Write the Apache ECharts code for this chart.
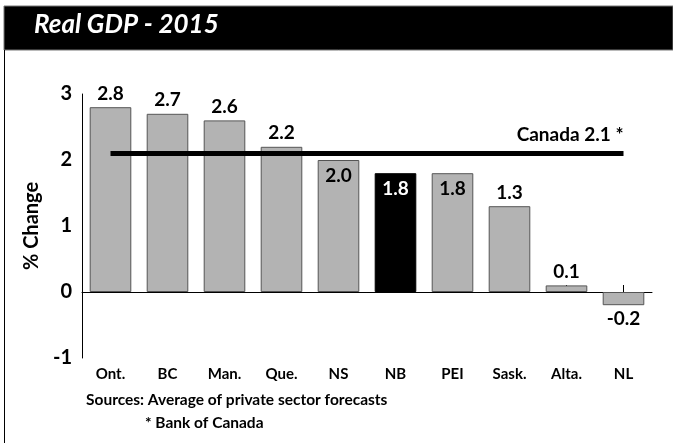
<!DOCTYPE html>
<html>
<head>
<meta charset="utf-8">
<script src="https://cdn.jsdelivr.net/npm/echarts@6/dist/echarts.min.js"></script>
<style>
  html, body { margin: 0; padding: 0; background: #fff; }
  #chart { width: 673px; height: 443px; }
</style>
</head>
<body>
<div id="chart"></div>
<script>
// data
var provinces = ['Ont.', 'BC', 'Man.', 'Que.', 'NS', 'NB', 'PEI', 'Sask.', 'Alta.', 'NL'];
var gdpGrowth = [2.8, 2.7, 2.6, 2.2, 2.0, 1.8, 1.8, 1.3, 0.1, -0.2];
var canadaGrowth = 2.1;
var yTicks = [-1, 0, 1, 2, 3];

var FONT = 'Lato';
var chart = echarts.init(document.getElementById('chart'));

// labels that would collide with the Canada line sit inside the bar
var labelPlace = ['top', 'top', 'top', 'top', 'insideTop', 'insideTop', 'insideTop', 'top', 'top', 'bottom'];

var barData = gdpGrowth.map(function (v, i) {
    var isNB = provinces[i] === 'NB';
    return {
        value: v,
        itemStyle: {
            color: isNB ? '#000' : '#b3b3b3',
            borderColor: isNB ? '#000' : '#555',
            borderWidth: 1
        },
        label: {
            position: labelPlace[i],
            color: isNB ? '#fff' : '#000',
            distance: labelPlace[i] === 'insideTop' ? 6 : 4
        }
    };
});

var option = {
    animation: false,
    backgroundColor: '#fff',
    graphic: [
        { type: 'rect', shape: { x: 4, y: 6, width: 669, height: 44 }, style: { fill: '#000', stroke: '#777', lineWidth: 1 } },
        { type: 'line', shape: { x1: 4.5, y1: 50, x2: 4.5, y2: 443 }, style: { stroke: '#000', lineWidth: 1 } },
        { type: 'text', left: 34, top: 12, style: { text: 'Real GDP - 2015', fill: '#fff', font: 'italic bold 26px ' + FONT } },
        { type: 'text', left: 86, top: 392, style: { text: 'Sources: Average of private sector forecasts', fill: '#000', font: 'bold 15.5px ' + FONT } },
        { type: 'text', left: 145, top: 415, style: { text: '* Bank of Canada', fill: '#000', font: 'bold 15.5px ' + FONT } }
    ],
    grid: {
        left: 82,
        right: 21,
        top: 94,
        bottom: 85
    },
    xAxis: [{
        type: 'category',
        data: provinces,
        position: 'bottom',
        axisLine: { onZero: true, lineStyle: { color: '#000', width: 1 } },
        axisTick: { show: true, inside: true, length: 7, alignWithLabel: true, lineStyle: { color: '#000' } },
        axisLabel: { show: false },
        splitLine: { show: false }
    }, {
        type: 'category',
        data: provinces,
        position: 'bottom',
        axisLine: { show: false, onZero: false },
        axisTick: { show: false },
        axisLabel: { margin: 9, color: '#000', fontFamily: FONT, fontWeight: 'bold', fontSize: 15 }
    }],
    yAxis: {
        type: 'value',
        min: yTicks[0],
        max: yTicks[yTicks.length - 1],
        interval: 1,
        name: '% Change',
        nameLocation: 'middle',
        nameGap: 38,
        nameTextStyle: { color: '#000', fontFamily: FONT, fontWeight: 'bold', fontSize: 20 },
        axisLine: { show: true, lineStyle: { color: '#000', width: 1 } },
        axisTick: { show: false },
        axisLabel: { margin: 10, color: '#000', fontFamily: FONT, fontWeight: 'bold', fontSize: 20 },
        splitLine: { show: false }
    },
    series: [{
        name: 'Real GDP',
        type: 'bar',
        xAxisIndex: 0,
        barCategoryGap: '27%',
        label: {
            show: true,
            fontFamily: FONT,
            fontWeight: 'bold',
            fontSize: 19,
            formatter: function (p) { return p.value.toFixed(1); }
        },
        data: barData,
        markLine: {
            silent: true,
            symbol: ['none', 'none'],
            z: 5,
            lineStyle: { color: '#000', width: 5, type: 'solid' },
            label: {
                show: true,
                position: 'insideEndTop',
                distance: [0, 9],
                color: '#000',
                fontFamily: FONT,
                fontWeight: 'bold',
                fontSize: 19,
                formatter: 'Canada ' + canadaGrowth.toFixed(1) + ' *'
            },
            data: [[
                { coord: [provinces[0], canadaGrowth] },
                { coord: [provinces[provinces.length - 1], canadaGrowth] }
            ]]
        }
    }]
};
chart.setOption(option);
</script>
</body>
</html>
